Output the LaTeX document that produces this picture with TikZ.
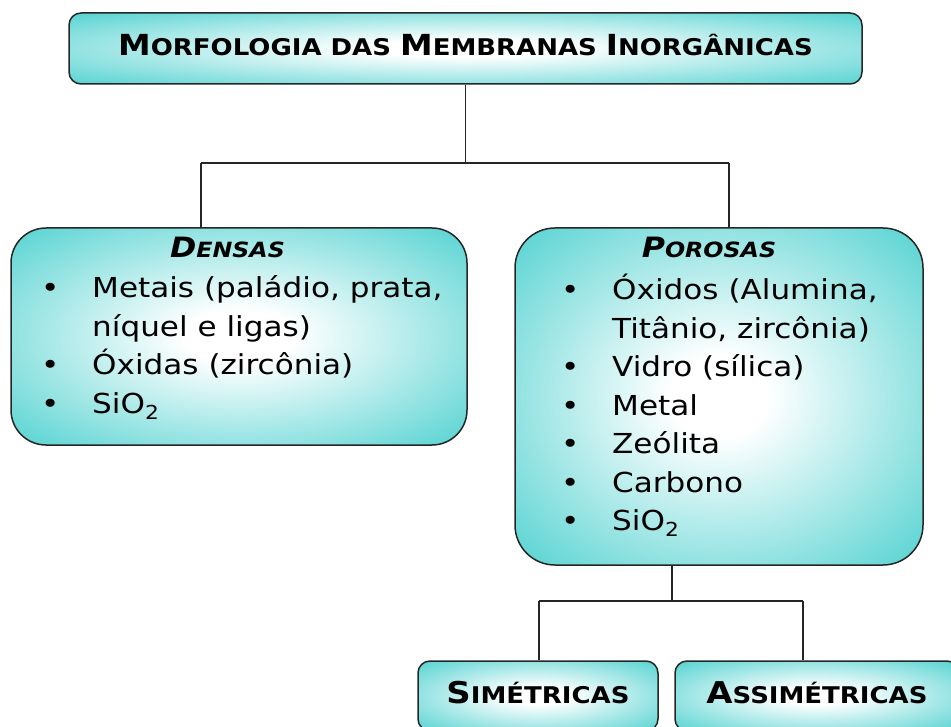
\documentclass[tikz,border=0pt]{standalone}
\usepackage{fontspec}
\setmainfont{DejaVu Sans}[FakeStretch=1.13]

\definecolor{boxteal}{RGB}{58,204,202}
\pgfdeclareradialshading{glow}{\pgfpoint{0bp}{0bp}}{color(0bp)=(white); color(6bp)=(white); color(40bp)=(boxteal); color(60bp)=(boxteal)}

% big first letter for the fake small caps
\newcommand{\capl}[2]{{\fontsize{#1}{#1}\selectfont #2}}

\tikzset{
  membox/.style={draw=black!85, line width=1.5pt, shading=glow, rounded corners=#1},
  membox/.default=12pt,
  capsfont/.style={font=\bfseries\fontsize{23}{23}\selectfont, text height=22pt, text depth=8pt},
  hdr/.style={font=\bfseries\itshape\fontsize{21}{21}\selectfont, inner sep=0pt},
  lst/.style={font=\fontsize{27.5}{38.5}\selectfont, inner sep=0pt},
  link/.style={draw=black!85, line width=1.4pt}
}

\begin{document}
\begin{tikzpicture}[x=1pt,y=-1pt]
        \useasboundingbox (0,0) rectangle (951,727);
        \clip (0,0) rectangle (951,727);

        % top
        \node[membox, capsfont, minimum width=793pt, minimum height=71pt] (title) at (465.5,48.5)
          {\capl{29}{M}ORFOLOGIA DAS \capl{29}{M}EMBRANAS \capl{29}{I}NORGÂNICAS};

        % dense
        \node[membox=35pt, minimum width=456pt, minimum height=217pt] (densas) at (239,336.5) {};
        \node[hdr, anchor=base] (densas-hd) at (227.5,258) {\capl{28}{D}ENSAS};
        \node[lst, anchor=base west] (densas-lst) at (41,298) {%
          \begin{tabular}[t]{@{}p{51pt}@{}l@{}}
            \textbullet & Metais (paládio, prata,\\
                        & níquel e ligas)\\
            \textbullet & Óxidas (zircônia)\\
            \textbullet & SiO\textsubscript{2}
          \end{tabular}};

        % porous
        \node[membox=40pt, minimum width=408pt, minimum height=337pt] (porosas) at (719,396.5) {};
        \node[hdr, anchor=base] (porosas-hd) at (709,258) {\capl{28}{P}OROSAS};
        \node[lst, anchor=base west] (porosas-lst) at (561,300) {%
          \begin{tabular}[t]{@{}p{51pt}@{}l@{}}
            \textbullet & Óxidos (Alumina,\\
                        & Titânio, zircônia)\\
            \textbullet & Vidro (sílica)\\
            \textbullet & Metal\\
            \textbullet & Zeólita\\
            \textbullet & Carbono\\
            \textbullet & SiO\textsubscript{2}
          \end{tabular}};

        % bottom
        \node[membox, capsfont, minimum width=240pt, minimum height=70pt] (sim) at (538,696)
          {\capl{30}{S}IMÉTRICAS};
        \node[membox, capsfont, minimum width=284pt, minimum height=70pt] (assim) at (817,696)
          {\capl{30}{A}SSIMÉTRICAS};

        \coordinate (split) at (465.5,163);
        \coordinate (dlink) at (201,163);
        \coordinate (plink) at (729,163);
        \coordinate (split2) at (672,601);
        \coordinate (slink) at (539,601);
        \coordinate (alink) at (803,601);

        \draw[link] (title.south) -- (split);
        \draw[link] (dlink) -- (plink);
        \draw[link] (dlink) -- (dlink |- densas.north);
        \draw[link] (plink) -- (plink |- porosas.north);
        \draw[link] (split2 |- porosas.south) -- (split2);
        \draw[link] (slink) -- (alink);
        \draw[link] (slink) -- (slink |- sim.north);
        \draw[link] (alink) -- (alink |- assim.north);

      \end{tikzpicture}
\end{document}
